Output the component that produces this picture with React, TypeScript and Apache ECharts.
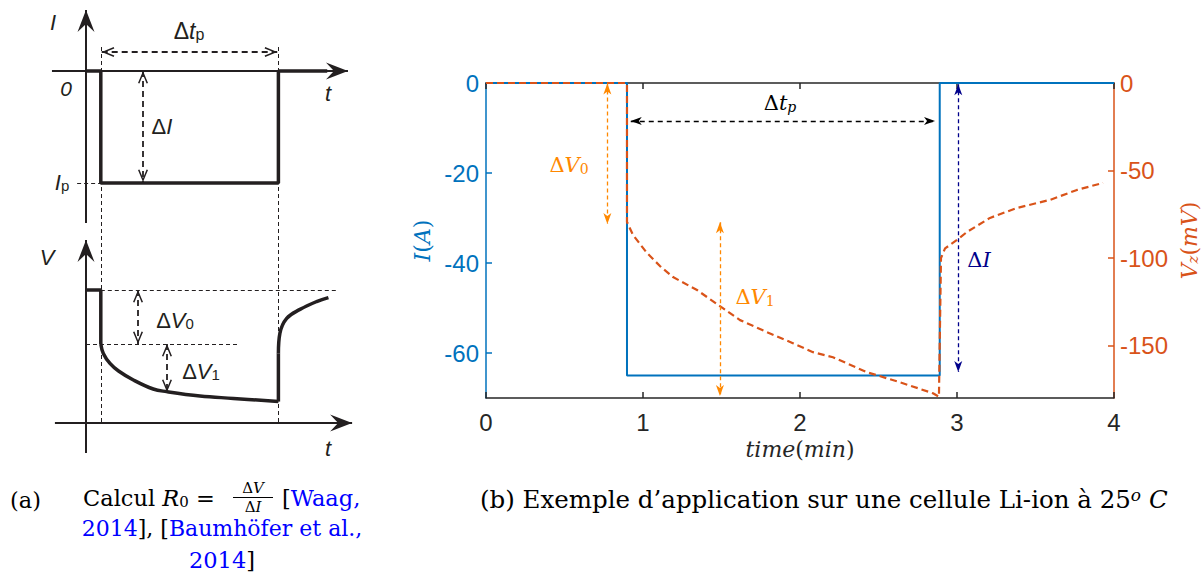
import React, { useEffect, useRef } from 'react';
import * as echarts from 'echarts';

// ---------- Panel (b): measured pulse test ----------
const timeCurrent = [0, 0.898, 0.898, 2.89, 2.89, 4];
const currentA = [0, 0, -65, -65, 0, 0];

const timeVoltage = [0, 0.898, 0.898, 0.936, 1.025, 1.108, 1.191, 1.344, 1.49, 1.618, 1.79, 1.955, 2.083, 2.21, 2.427, 2.637, 2.847, 2.885, 2.898, 2.924, 3.0, 3.064, 3.21, 3.382, 3.592, 3.764, 3.93];
const voltageMv = [0, 0, -79.4, -86.8, -97.1, -104.6, -110.9, -118.3, -127.5, -135.5, -142.4, -148.7, -153.8, -156.7, -165.3, -171.0, -177.3, -179.3, -100, -94.5, -89.7, -85.1, -77.1, -71.4, -66.8, -61.1, -57.1];

const leftTicks = [-60, -40, -20, 0];
const rightTicks = [-150, -100, -50, 0];

// annotation positions (data units)
const dtpLine = [[0.922, -8.44], [2.86, -8.44]];
const dILine = [[3.008, -0.3], [3.008, -64.2]];
const dV0Line = [[0.773, -0.3], [0.773, -80.6]];
const dV1Line = [[1.49, -79.6], [1.49, -178.9]];

// ---------- Panel (a): schematic (abstract units) ----------
const schemPulseT = [0, 0.5, 0.5, 6.5, 6.5, 8.15];
const schemPulseI = [19.45, 19.45, 13.85, 13.85, 19.45, 19.45];
const schemVFrontT = [0, 0.5, 0.5];
const schemVFrontV = [8.5, 8.5, 5.8];
const schemVDecayT = [0.5, 0.585, 0.81, 1.1, 1.6, 2.27, 2.72, 3.85, 4.98, 6.5];
const schemVDecayV = [5.8, 5.33, 4.83, 4.45, 4.0, 3.55, 3.42, 3.2, 3.08, 2.92];
const schemVJumpT = [6.5, 6.5];
const schemVJumpV = [2.92, 5.33];
const schemVRecT = [6.5, 6.55, 6.78, 7.23, 7.79, 8.19];
const schemVRecV = [5.33, 6.33, 7.08, 7.53, 7.92, 8.12];

const schemAxes = [
  [[0, 11.85], [0, 22.5]],
  [[-1.15, 19.45], [8.85, 19.45]],
  [[0, 0.35], [0, 11.0]],
  [[-1.05, 1.85], [8.99, 1.85]],
];
const schemGuides = [
  [[0.5, 20.65], [0.5, 1.85]],
  [[6.5, 20.65], [6.5, 1.85]],
  [[-0.3, 13.85], [0.5, 13.85]],
  [[0.5, 8.5], [8.48, 8.5]],
  [[0, 5.8], [5.2, 5.8]],
];
const schemArrows = [
  [[0.53, 20.4], [6.46, 20.4]],
  [[1.926, 19.45], [1.926, 13.9]],
  [[1.757, 8.5], [1.757, 5.8]],
  [[2.736, 5.8], [2.736, 3.4]],
];

const SERIF = 'DejaVu Serif';
const SANS = 'Liberation Sans';
const INK = '#231f20';
const BLUE = '#0072BD';
const RED = '#D95319';
const ORANGE = '#FF8800';
const NAVY = '#00008B';

const ARROW_FILLED = 'path://M0,0 L4,11 L0,8 L-4,11 Z M0,-11 L0.01,-11 Z';
const CHEVRON = 'path://M0,0 L5,12 L3.6,12.6 L0,3.8 L-3.6,12.6 L-5,12 Z M0,-12.6 L0.01,-12.6 Z';
const STEALTH = 'path://M0,0 L8.5,22 L0,14 L-8.5,22 Z M0,-22 L0.01,-22 Z';

function pairs(xs: number[], ys: number[]) {
  return xs.map((x, i) => [x, ys[i]]);
}

function mline(seg: number[][], color: string, width: number, dash: any, head: string | null, size: number[], both: boolean) {
  return [
    { coord: seg[0], symbol: head && both ? head : 'none', symbolSize: size, lineStyle: { color, width, type: dash, cap: 'butt' } },
    { coord: seg[1], symbol: head ? head : 'none', symbolSize: size },
  ];
}

function mathText(x: number, y: number, text: string, color: string, size: number, family: string, align = 'center') {
  return {
    type: 'text',
    x,
    y,
    silent: true,
    style: {
      text,
      fill: color,
      fontSize: size,
      fontFamily: family,
      align,
      verticalAlign: 'middle',
      rich: {
        n: { fill: color, fontSize: size, fontFamily: family, lineHeight: size, verticalAlign: 'middle' },
        i: { fill: color, fontSize: size, fontFamily: family, fontStyle: 'italic', lineHeight: size, verticalAlign: 'middle' },
        s: { fill: color, fontSize: Math.round(size * 0.68), fontFamily: family, lineHeight: Math.round(size * 0.4), verticalAlign: 'bottom' },
        ss: { fill: color, fontSize: Math.round(size * 0.68), fontFamily: family, fontStyle: 'italic', lineHeight: Math.round(size * 0.4), verticalAlign: 'bottom' },
        si: { fill: color, fontSize: Math.round(size * 0.68), fontFamily: family, fontStyle: 'italic', lineHeight: Math.round(size * 0.4), verticalAlign: 'top' },
        b: { fill: '#0000ff', fontSize: size, fontFamily: family, lineHeight: size, verticalAlign: 'middle' },
      },
    },
  };
}

function richAxisName(color: string, size: number) {
  return {
    color,
    fontSize: size,
    fontFamily: SERIF,
    rich: {
      n: { color, fontSize: size, fontFamily: SERIF, lineHeight: size, verticalAlign: 'middle' },
      i: { color, fontSize: size, fontFamily: SERIF, fontStyle: 'italic', lineHeight: size, verticalAlign: 'middle' },
      s: { color, fontSize: Math.round(size * 0.68), fontFamily: SERIF, fontStyle: 'italic', lineHeight: Math.round(size * 0.4), verticalAlign: 'bottom' },
    },
  };
}

const hiddenAxis = { show: false, axisLine: { show: false }, axisTick: { show: false }, axisLabel: { show: false }, splitLine: { show: false } };

const option: any = {
  animation: false,
  backgroundColor: '#ffffff',
  textStyle: { fontFamily: SANS },
  grid: [
    { left: 486, top: 83, width: 628, height: 315, outerBoundsMode: 'none', containLabel: false },
    { left: 41.6, top: 0, width: 325.6, height: 460, outerBoundsMode: 'none', containLabel: false },
  ],
  xAxis: [
    {
      gridIndex: 0, type: 'value', min: 0, max: 4, interval: 1, position: 'bottom',
      axisLine: { onZero: false, lineStyle: { color: '#262626', width: 1.5 } },
      axisTick: { inside: true, length: 6, lineStyle: { color: '#262626', width: 1.5 } },
      axisLabel: { color: '#262626', fontFamily: SANS, fontSize: 24, margin: 12 },
      splitLine: { show: false },
      name: '{i|time}{n|(}{i|min}{n|)}', nameLocation: 'middle', nameGap: 38,
      nameTextStyle: richAxisName('#262626', 22),
    },
    {
      gridIndex: 0, type: 'value', min: 0, max: 4, interval: 1, position: 'top',
      axisLine: { onZero: false, lineStyle: { color: '#262626', width: 1.5 } },
      axisTick: { inside: true, length: 6, lineStyle: { color: '#262626', width: 1.5 } },
      axisLabel: { show: false },
      splitLine: { show: false },
    },
    { gridIndex: 1, type: 'value', min: -1.5, max: 9.5, ...hiddenAxis },
  ],
  yAxis: [
    {
      gridIndex: 0, type: 'value', min: -70, max: 0, position: 'left',
      axisLine: { show: true, onZero: false, lineStyle: { color: BLUE, width: 1.5 } },
      axisTick: { show: true, inside: true, length: 6, customValues: leftTicks, lineStyle: { color: BLUE, width: 1.5 } },
      axisLabel: { show: true, customValues: leftTicks, color: BLUE, fontFamily: SANS, fontSize: 24, margin: 7 },
      splitLine: { show: false },
      name: '{i|I}{n|(}{i|A}{n|)}', nameLocation: 'middle', nameGap: 47, nameRotate: 90,
      nameTextStyle: richAxisName(BLUE, 22),
    },
    {
      gridIndex: 0, type: 'value', min: -180, max: 0, position: 'right',
      axisLine: { show: true, onZero: false, lineStyle: { color: RED, width: 1.5 } },
      axisTick: { show: true, inside: true, length: 6, customValues: rightTicks, lineStyle: { color: RED, width: 1.5 } },
      axisLabel: { show: true, customValues: rightTicks, color: RED, fontFamily: SANS, fontSize: 24, margin: 6 },
      splitLine: { show: false },
      name: '{i|V}{s|z}{n|(}{i|mV}{n|)}', nameLocation: 'middle', nameGap: 58, nameRotate: 90,
      nameTextStyle: richAxisName(RED, 22),
    },
    { gridIndex: 1, type: 'value', min: 0, max: 23, ...hiddenAxis },
  ],
  series: [
    {
      type: 'line', xAxisIndex: 0, yAxisIndex: 0, data: pairs(timeCurrent, currentA),
      symbol: 'none', lineStyle: { color: BLUE, width: 2 }, silent: true,
      markLine: {
        silent: true, animation: false, label: { show: false }, emphasis: { disabled: true },
        data: [
          mline(dtpLine, '#000000', 1.3, [5, 4], ARROW_FILLED, [8, 22], true),
          mline(dILine, NAVY, 1.3, [4, 3], ARROW_FILLED, [8, 22], true),
        ],
      },
    },
    {
      type: 'line', xAxisIndex: 0, yAxisIndex: 1, data: pairs(timeVoltage, voltageMv),
      symbol: 'none', lineStyle: { color: RED, width: 2.2, type: [7, 4] }, silent: true,
      markLine: {
        silent: true, animation: false, label: { show: false }, emphasis: { disabled: true },
        data: [
          mline(dV0Line, ORANGE, 1.3, [4, 3], ARROW_FILLED, [8, 22], true),
          mline(dV1Line, ORANGE, 1.3, [4, 3], ARROW_FILLED, [8, 22], true),
        ],
      },
    },
    {
      type: 'line', xAxisIndex: 2, yAxisIndex: 2, data: pairs(schemPulseT, schemPulseI),
      symbol: 'none', lineStyle: { color: INK, width: 3.5 }, silent: true, clip: false, z: 3,
      markLine: {
        silent: true, animation: false, label: { show: false }, emphasis: { disabled: true },
        data: [
          ...schemAxes.map((s) => mline(s, INK, 2, 'solid', STEALTH, [17, 44], false)),
          ...schemGuides.map((s) => mline(s, INK, 1, [4, 3], null, [1, 1], false)),
          ...schemArrows.map((s) => mline(s, INK, 1.8, [6, 4], CHEVRON, [10, 25.2], true)),
        ],
      },
    },
    { type: 'line', xAxisIndex: 2, yAxisIndex: 2, data: pairs(schemVFrontT, schemVFrontV), symbol: 'none', lineStyle: { color: INK, width: 3.5 }, silent: true, clip: false, z: 3 },
    { type: 'line', xAxisIndex: 2, yAxisIndex: 2, data: pairs(schemVDecayT, schemVDecayV), symbol: 'none', smooth: 0.4, lineStyle: { color: INK, width: 3.5 }, silent: true, clip: false, z: 3 },
    { type: 'line', xAxisIndex: 2, yAxisIndex: 2, data: pairs(schemVJumpT, schemVJumpV), symbol: 'none', lineStyle: { color: INK, width: 3.5 }, silent: true, clip: false, z: 3 },
    { type: 'line', xAxisIndex: 2, yAxisIndex: 2, data: pairs(schemVRecT, schemVRecV), symbol: 'none', smooth: 0.4, lineStyle: { color: INK, width: 3.5 }, silent: true, clip: false, z: 3 },
  ],
  graphic: {
    elements: [
      // panel (b) annotations
      mathText(780, 103, '{n|Δ}{i|t}{ss|p}', '#000000', 21, SERIF),
      mathText(569, 165, '{n|Δ}{i|V}{s|0}', ORANGE, 21, SERIF),
      mathText(755, 297, '{n|Δ}{i|V}{s|1}', ORANGE, 21, SERIF),
      mathText(979, 260, '{n|Δ}{i|I}', NAVY, 21, SERIF),
      // panel (a) schematic labels
      mathText(53, 22, '{i|I}', INK, 22, SANS),
      mathText(189, 31, '{n|Δ}{i|t}{s|p}', INK, 23, SANS),
      mathText(66, 88, '{i|0}', INK, 21, SANS),
      mathText(328, 93, '{i|t}', INK, 22, SANS),
      mathText(162, 126, '{n|Δ}{i|I}', INK, 22, SANS),
      mathText(62, 182, '{i|I}{s|p}', INK, 22, SANS),
      mathText(47, 257, '{i|V}', INK, 22, SANS),
      mathText(175, 320, '{n|Δ}{i|V}{s|0}', INK, 22, SANS),
      mathText(201, 371, '{n|Δ}{i|V}{s|1}', INK, 22, SANS),
      mathText(328, 448, '{i|t}', INK, 22, SANS),
      // captions
      mathText(10, 500, '{n|(a)}', '#000000', 22.5, SERIF, 'left'),
      mathText(83, 498, '{n|Calcul }{i|R}{s|0}{n| =}', '#000000', 22.5, SERIF, 'left'),
      mathText(253, 488, '{n|Δ}{i|V}', '#000000', 15, SERIF),
      {
        type: 'line', silent: true,
        shape: { x1: 233, y1: 497.5, x2: 273, y2: 497.5 },
        style: { stroke: '#000000', lineWidth: 1 },
      },
      mathText(253, 507, '{n|Δ}{i|I}', '#000000', 15, SERIF),
      mathText(282, 498, '{n|[}{b|Waag,}', '#000000', 22.5, SERIF, 'left'),
      mathText(222, 528, '{b|2014}{n|], [}{b|Baumhöfer et al.,}', '#000000', 22, SERIF),
      mathText(222, 560, '{b|2014}{n|]}', '#000000', 22.5, SERIF),
      mathText(480, 499, '{n|(b) Exemple d’application sur une cellule Li-ion à 25}{si|o}{n| }{i|C}', '#000000', 24.5, SERIF, 'left'),
    ],
  },
};

export default function App() {
  const ref = useRef<HTMLDivElement>(null);
  useEffect(() => {
    if (!ref.current) return;
    const chart = echarts.init(ref.current, undefined, { renderer: 'svg' });
    chart.setOption(option);
    return () => chart.dispose();
  }, []);
  return <div ref={ref} style={{ position: 'absolute', left: 0, top: 0, width: 1204, height: 573, background: '#fff' }} />;
}
